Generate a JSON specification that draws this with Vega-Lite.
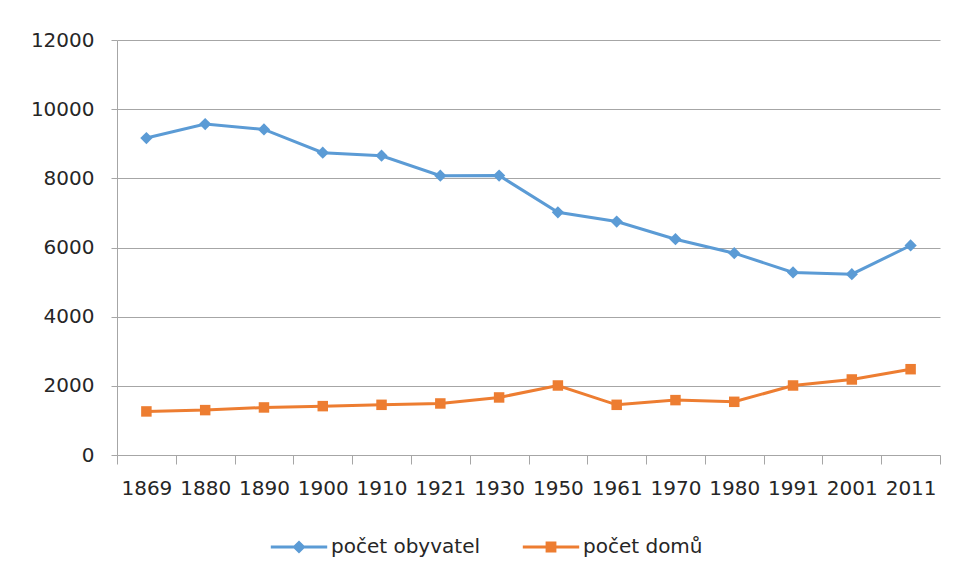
{
  "$schema": "https://vega.github.io/schema/vega-lite/v6.json",
  "width": 823,
  "height": 415,
  "autosize": "none",
  "padding": {"left": 117, "top": 40, "right": 15, "bottom": 125},
  "background": "white",
  "config": {
    "font": "DejaVu Sans",
    "view": {"stroke": null},
    "axis": {"labelFont": "DejaVu Sans", "labelFontSize": 20, "labelColor": "#262626", "domainColor": "#a6a6a6", "tickColor": "#a6a6a6", "gridColor": "#a6a6a6", "domainWidth": 1, "tickWidth": 1, "gridWidth": 1, "title": null}
  },
  "data": {"values": [
    {"year": "1869", "series": "počet obyvatel", "value": 9165},
    {"year": "1880", "series": "počet obyvatel", "value": 9568},
    {"year": "1890", "series": "počet obyvatel", "value": 9413},
    {"year": "1900", "series": "počet obyvatel", "value": 8740},
    {"year": "1910", "series": "počet obyvatel", "value": 8654},
    {"year": "1921", "series": "počet obyvatel", "value": 8077},
    {"year": "1930", "series": "počet obyvatel", "value": 8080},
    {"year": "1950", "series": "počet obyvatel", "value": 7018},
    {"year": "1961", "series": "počet obyvatel", "value": 6750},
    {"year": "1970", "series": "počet obyvatel", "value": 6240},
    {"year": "1980", "series": "počet obyvatel", "value": 5836},
    {"year": "1991", "series": "počet obyvatel", "value": 5279},
    {"year": "2001", "series": "počet obyvatel", "value": 5230},
    {"year": "2011", "series": "počet obyvatel", "value": 6058},
    {"year": "1869", "series": "počet domů", "value": 1260},
    {"year": "1880", "series": "počet domů", "value": 1298},
    {"year": "1890", "series": "počet domů", "value": 1375},
    {"year": "1900", "series": "počet domů", "value": 1413},
    {"year": "1910", "series": "počet domů", "value": 1451},
    {"year": "1921", "series": "počet domů", "value": 1490},
    {"year": "1930", "series": "počet domů", "value": 1664},
    {"year": "1950", "series": "počet domů", "value": 2010},
    {"year": "1961", "series": "počet domů", "value": 1451},
    {"year": "1970", "series": "počet domů", "value": 1587},
    {"year": "1980", "series": "počet domů", "value": 1538},
    {"year": "1991", "series": "počet domů", "value": 2010},
    {"year": "2001", "series": "počet domů", "value": 2184},
    {"year": "2011", "series": "počet domů", "value": 2481}
  ]},
  "encoding": {
    "x": {"field": "year", "type": "ordinal", "bandPosition": 0.5,
          "scale": {"type": "band", "paddingInner": 0, "paddingOuter": 0},
          "axis": {"labelAngle": 0, "tickBand": "extent", "tickSize": 9, "labelPadding": 14, "grid": false}},
    "y": {"field": "value", "type": "quantitative",
          "scale": {"domain": [0, 12000]},
          "axis": {"values": [0, 2000, 4000, 6000, 8000, 10000, 12000], "format": "d", "tickSize": 6, "labelPadding": 17, "grid": true}}
  },
  "layer": [
    {
      "mark": {"type": "line", "strokeWidth": 3},
      "encoding": {
        "color": {"field": "series", "type": "nominal",
          "scale": {"domain": ["počet obyvatel", "počet domů"], "range": ["#5b9bd5", "#ed7d31"]},
          "legend": {
            "title": null, "orient": "none", "direction": "horizontal",
            "legendX": 172, "legendY": 497,
            "labelFont": "DejaVu Sans", "labelFontSize": 20, "labelColor": "#262626",
            "symbolSize": 144, "symbolStrokeWidth": 0, "labelOffset": 22, "columnPadding": 42,
            "encode": {"symbols": {"update": {
              "shape": {"signal": "datum.value === 'počet obyvatel' ? 'M-4.7,-0.25H4.7V0.25H-4.7Z M0,-1.1L1.1,0L0,1.1L-1.1,0Z' : 'M-4.7,-0.25H4.7V0.25H-4.7Z M-0.9,-0.9H0.9V0.9H-0.9Z'"},
              "fill": {"signal": "scale('color', datum.value)"},
              "strokeWidth": {"value": 0},
              "opacity": {"value": 1}
            }}}
          }}
      }
    },
    {
      "transform": [{"filter": "datum.series === 'počet obyvatel'"}],
      "mark": {"type": "point", "filled": true, "opacity": 1, "shape": "diamond", "size": 150},
      "encoding": {
        "color": {"field": "series", "type": "nominal", "legend": null}
      }
    },
    {
      "transform": [{"filter": "datum.series === 'počet domů'"}],
      "mark": {"type": "point", "filled": true, "opacity": 1, "shape": "square", "size": 110},
      "encoding": {
        "color": {"field": "series", "type": "nominal", "legend": null}
      }
    }
  ]
}
